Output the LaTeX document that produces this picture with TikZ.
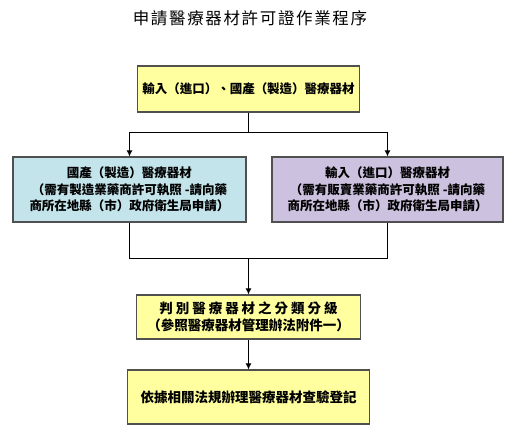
\documentclass[tikz,border=0pt]{standalone}
\usepackage{fontspec}
\setmainfont{Noto Sans CJK TC}
\usetikzlibrary{arrows.meta}
\definecolor{boxyellow}{HTML}{FFFF9F}
\definecolor{boxcyan}{HTML}{C3E4EA}
\definecolor{boxpurple}{HTML}{CCC1DE}
\definecolor{boxline}{HTML}{505050}
\begin{document}
\begin{tikzpicture}[x=1pt,y=-1pt,
  flowbox/.style={draw=boxline,line width=1.2pt,align=center,inner sep=0pt,
    font=\fontsize{12.5}{16.5}\selectfont\bfseries},
  conn/.style={line width=1pt,draw=black},
  arr/.style={conn,-{Latex[length=6pt,width=6pt]}}]
\useasboundingbox (0,0) rectangle (512,436);
\node (title) at (250,18) {\fontsize{16.5}{18}\selectfont\addfontfeatures{LetterSpace=10}申請醫療器材許可證作業程序};
\node[flowbox,fill=boxyellow,minimum width=222pt,minimum height=46pt] (top) at (248.5,89) {輸入（進口）、國產（製造）醫療器材};
\node[flowbox,fill=boxcyan,minimum width=233pt,minimum height=65pt] (left) at (129.5,189.5) {國產（製造）醫療器材\\（需有製造業藥商許可執照 -請向藥\\商所在地縣（市）政府衛生局申請）};
\node[flowbox,fill=boxpurple,minimum width=231pt,minimum height=65pt] (right) at (387.5,189.5) {輸入（進口）醫療器材\\（需有販賣業藥商許可執照 -請向藥\\商所在地縣（市）政府衛生局申請）};
\node[flowbox,fill=boxyellow,minimum width=224pt,minimum height=44pt,font=\fontsize{13.5}{17}\selectfont\bfseries] (mid) at (248.5,317) {{\addfontfeatures{LetterSpace=22}判別醫療器材之分類分級}\\（參照醫療器材管理辦法附件一）};
\node[flowbox,fill=boxyellow,minimum width=242pt,minimum height=54pt,font=\fontsize{13.5}{17}\selectfont\bfseries] (bot) at (248.5,397) {依據相關法規辦理醫療器材查驗登記};
\coordinate (j1) at (248.5,133);
\coordinate (j2) at (248.5,258);
\draw[conn] (top.south) -- (j1);
\draw[arr] (j1) -| (left.north);
\draw[arr] (j1) -| (right.north);
\draw[conn] (left.south) |- (j2);
\draw[conn] (right.south) |- (j2);
\draw[arr] (j2) -- (mid.north);
\draw[arr] (mid.south) -- (bot.north);
\end{tikzpicture}
\end{document}
